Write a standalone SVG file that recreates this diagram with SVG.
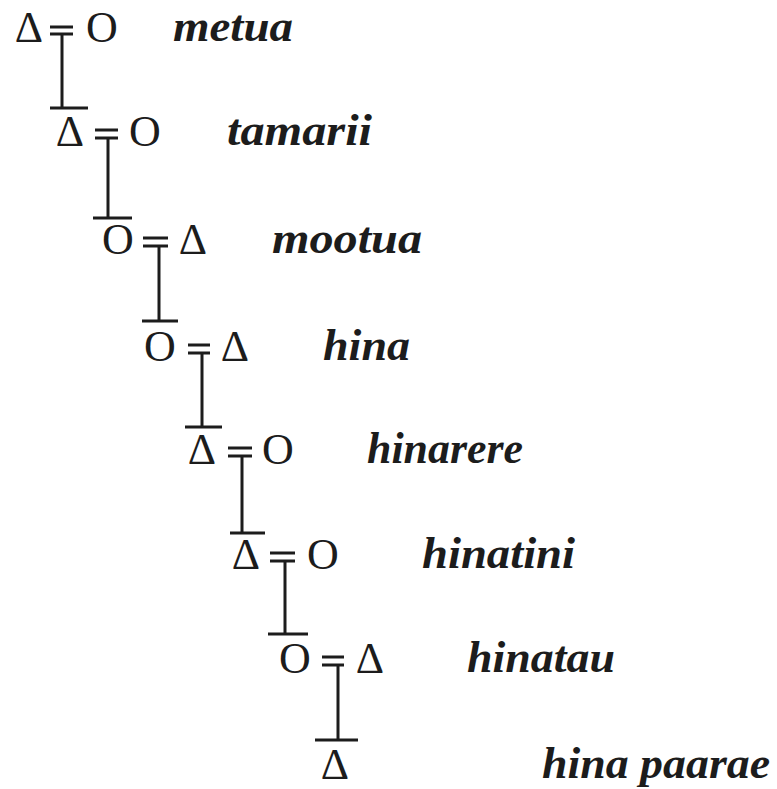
<svg xmlns="http://www.w3.org/2000/svg" width="777" height="789" viewBox="0 0 777 789">
<style>
.sym{font-family:"Liberation Serif","Times New Roman",serif;font-size:44px;fill:#1c1c1c;text-anchor:middle}
.lbl{font-family:"Liberation Serif","Times New Roman",serif;font-size:44px;font-weight:bold;font-style:italic;fill:#1c1c1c}
.ln{stroke:#1c1c1c;stroke-width:3;fill:none}
</style>
<rect width="777" height="789" fill="#ffffff"/>
<g id="connectors" class="ln">
<path d="M50 27H73M50 34H73M62 34V108M50 108H88"/>
<path d="M95 130H118M95 138H118M108 138V218M93 218H132"/>
<path d="M143 238H168M143 246H168M159 246V321M142 321H178"/>
<path d="M188 345H210M188 353H210M202 353V427M185 427H222"/>
<path d="M228 448H252M228 456H252M242 456V533M230 533H265"/>
<path d="M270 553H295M270 561H295M285 561V634M268 634H308"/>
<path d="M322 657H344M322 665H344M338 665V740M315 740H358"/>
</g>
<g id="gen1"><text class="sym" x="29" y="42">Δ</text><text class="sym" x="102" y="42">O</text><text class="lbl" x="173" y="41" textLength="120" lengthAdjust="spacingAndGlyphs">metua</text></g>
<g id="gen2"><text class="sym" x="70" y="146">Δ</text><text class="sym" x="145" y="146">O</text><text class="lbl" x="227" y="145" textLength="145" lengthAdjust="spacingAndGlyphs">tamarii</text></g>
<g id="gen3"><text class="sym" x="118" y="254">O</text><text class="sym" x="193" y="254">Δ</text><text class="lbl" x="272" y="253" textLength="150" lengthAdjust="spacingAndGlyphs">mootua</text></g>
<g id="gen4"><text class="sym" x="160" y="361">O</text><text class="sym" x="235" y="361">Δ</text><text class="lbl" x="323" y="360" textLength="87" lengthAdjust="spacingAndGlyphs">hina</text></g>
<g id="gen5"><text class="sym" x="202" y="464">Δ</text><text class="sym" x="278" y="464">O</text><text class="lbl" x="367" y="463" textLength="156" lengthAdjust="spacingAndGlyphs">hinarere</text></g>
<g id="gen6"><text class="sym" x="246" y="569">Δ</text><text class="sym" x="323" y="569">O</text><text class="lbl" x="422" y="568" textLength="153" lengthAdjust="spacingAndGlyphs">hinatini</text></g>
<g id="gen7"><text class="sym" x="295" y="673">O</text><text class="sym" x="370" y="673">Δ</text><text class="lbl" x="467" y="672" textLength="148" lengthAdjust="spacingAndGlyphs">hinatau</text></g>
<g id="gen8"><text class="sym" x="335" y="779">Δ</text><text class="lbl" x="542" y="778" textLength="228" lengthAdjust="spacingAndGlyphs">hina paarae</text></g>
</svg>
